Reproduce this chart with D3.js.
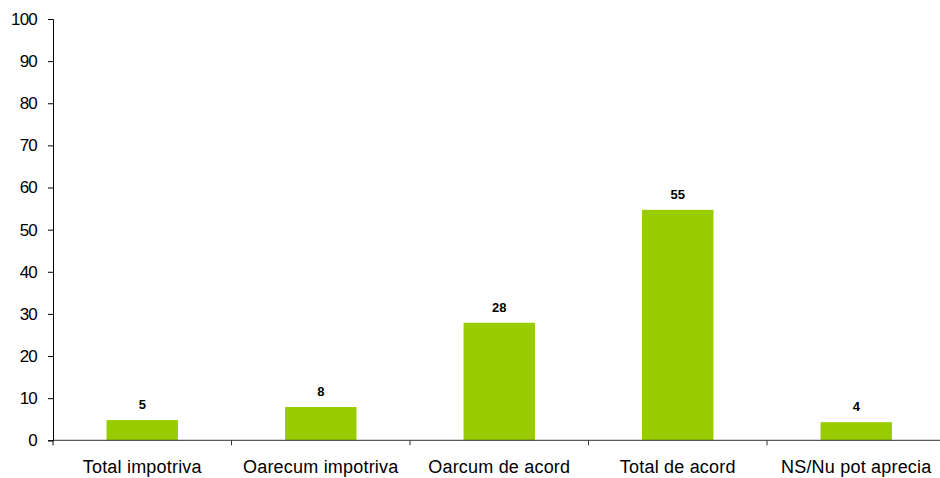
<!DOCTYPE html>
<html>
<head>
<meta charset="utf-8">
<script src="https://cdn.jsdelivr.net/npm/d3@7/dist/d3.min.js"></script>
<style>
body{margin:0;background:#fff;}
text{font-family:"Liberation Sans",Arial,sans-serif;}
</style>
</head>
<body>
<div id="plot"></div>
<script>
// data
var categories = ["Total impotriva","Oarecum impotriva","Oarcum de acord","Total de acord","NS/Nu pot aprecia"];
var values = [4.8, 7.9, 27.9, 54.7, 4.3];
var labels = ["5","8","28","55","4"];
var yTicks = [0,10,20,30,40,50,60,70,80,90,100];

var W = 940, H = 478;
var margin = {t:19, l:53};
var y0 = 440.3;
var plotW = 892.5;

var svg = d3.select('#plot').append('svg')
    .attr('width',W).attr('height',H);

var x = d3.scaleBand().domain(categories).range([margin.l, margin.l+plotW]).paddingInner(0.6).paddingOuter(0.3);
var xBand = d3.scaleBand().domain(categories).range([margin.l, margin.l+plotW]);
var y = d3.scaleLinear().domain([0,100]).range([y0, margin.t]);

// y axis
var yAxis = svg.append('g')
    .attr('transform','translate('+margin.l+',0)')
    .call(d3.axisLeft(y).tickValues(yTicks).tickSize(5).tickPadding(11));
yAxis.select('.domain').attr('stroke','#000');
yAxis.selectAll('.tick line').attr('stroke','#000');
yAxis.selectAll('.tick text').attr('font-size',17).attr('fill','#000')
    .attr('font-family','"Liberation Sans",Arial,sans-serif').attr('letter-spacing','-0.8');

// bars
svg.selectAll('.bar').data(values).enter().append('rect')
    .attr('class','bar')
    .attr('x',function(d,i){return x(categories[i]);})
    .attr('width',x.bandwidth())
    .attr('y',function(d){return y(d);})
    .attr('height',function(d){return y0-y(d);})
    .attr('fill','#99cc00');

// value labels
svg.selectAll('.lbl').data(values).enter().append('text')
    .attr('class','lbl')
    .attr('x',function(d,i){return x(categories[i])+x.bandwidth()/2;})
    .attr('y',function(d){return y(d)-11;})
    .attr('text-anchor','middle')
    .attr('font-size',13).attr('font-weight','bold').attr('fill','#000')
    .text(function(d,i){return labels[i];});

// x axis
svg.append('line')
    .attr('x1',margin.l).attr('x2',margin.l+plotW)
    .attr('y1',y0).attr('y2',y0)
    .attr('stroke','#333');
svg.selectAll('.xtick').data(categories.slice(1)).enter().append('line')
    .attr('x1',function(d){return xBand(d);}).attr('x2',function(d){return xBand(d);})
    .attr('y1',y0).attr('y2',y0+5).attr('stroke','#333');
svg.append('line')
    .attr('x1',margin.l).attr('x2',margin.l).attr('y1',y0).attr('y2',y0+5).attr('stroke','#000');
svg.selectAll('.xlbl').data(categories).enter().append('text')
    .attr('x',function(d){return xBand(d)+xBand.bandwidth()/2;})
    .attr('y',473)
    .attr('text-anchor','middle')
    .attr('font-size',18).attr('letter-spacing','0.2').attr('fill','#000')
    .text(function(d){return d;});
</script>
</body>
</html>
